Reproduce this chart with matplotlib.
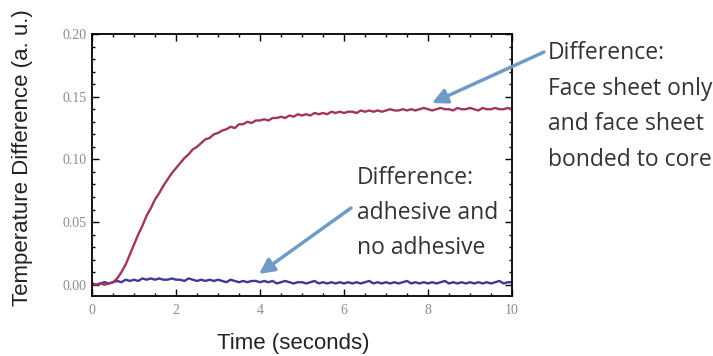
import numpy as np
from matplotlib import pyplot as plt
from matplotlib.ticker import MultipleLocator, FormatStrFormatter

# sampling grid, 0.1 s steps from 0 to 10 s
time = np.linspace(0, 10, 101)

# face sheet only vs face sheet bonded to core
face_core = [0.001, 0.000, 0.001, 0.000, 0.001, 0.002, 0.005, 0.010, 0.016, 0.024,
             0.032, 0.040, 0.047, 0.055, 0.061, 0.068, 0.073, 0.079, 0.084, 0.089,
             0.093, 0.097, 0.101, 0.104, 0.108, 0.110, 0.113, 0.116, 0.117, 0.120,
             0.121, 0.123, 0.124, 0.126, 0.125, 0.128, 0.128, 0.130, 0.129, 0.131,
             0.131, 0.132, 0.131, 0.133, 0.133, 0.134, 0.133, 0.135, 0.134, 0.136,
             0.135, 0.136, 0.135, 0.137, 0.136, 0.137, 0.136, 0.138, 0.137, 0.138,
             0.137, 0.138, 0.138, 0.137, 0.139, 0.138, 0.139, 0.138, 0.139, 0.138,
             0.139, 0.140, 0.139, 0.139, 0.140, 0.139, 0.140, 0.139, 0.140, 0.141,
             0.140, 0.139, 0.140, 0.141, 0.140, 0.140, 0.139, 0.141, 0.140, 0.140,
             0.141, 0.140, 0.139, 0.141, 0.140, 0.140, 0.141, 0.140, 0.140, 0.141,
             0.140]

# adhesive vs no adhesive
adhesive = [0.001, 0.000, 0.001, 0.002, 0.001, 0.002, 0.003, 0.002, 0.004, 0.003,
            0.004, 0.003, 0.005, 0.004, 0.005, 0.004, 0.005, 0.004, 0.004, 0.005,
            0.004, 0.004, 0.003, 0.005, 0.004, 0.003, 0.004, 0.003, 0.004, 0.003,
            0.004, 0.003, 0.002, 0.004, 0.003, 0.002, 0.003, 0.002, 0.003, 0.003,
            0.002, 0.003, 0.002, 0.003, 0.001, 0.002, 0.003, 0.002, 0.001, 0.002,
            0.002, 0.001, 0.002, 0.003, 0.001, 0.002, 0.001, 0.002, 0.001, 0.002,
            0.001, 0.002, 0.001, 0.002, 0.001, 0.002, 0.003, 0.001, 0.002, 0.001,
            0.002, 0.001, 0.002, 0.001, 0.002, 0.003, 0.001, 0.002, 0.001, 0.002,
            0.001, 0.002, 0.001, 0.002, 0.003, 0.001, 0.002, 0.001, 0.002, 0.001,
            0.002, 0.001, 0.002, 0.001, 0.002, 0.001, 0.002, 0.003, 0.001, 0.002,
            0.002]

W, H = 713, 356
fig = plt.figure(figsize=(W / 100, H / 100), dpi=100)
ax = fig.add_axes([92 / W, 1 - 296 / H, 420 / W, 262 / H])

ax.plot(time, adhesive, color='#3b3b96', lw=1.7)
ax.plot(time, face_core, color='#a03562', lw=1.7)

ax.set_xlim(0, 10)
ax.set_ylim(-0.009, 0.2)
ax.xaxis.set_major_locator(MultipleLocator(2))
ax.xaxis.set_minor_locator(MultipleLocator(0.5))
ax.yaxis.set_major_locator(MultipleLocator(0.05))
ax.yaxis.set_minor_locator(MultipleLocator(0.01))
ax.yaxis.set_major_formatter(FormatStrFormatter('%.2f'))
ax.tick_params(which='both', direction='in', top=True, right=True,
               labelsize=10, labelcolor='#8c8c8c', width=1)
ax.tick_params(axis='x', pad=6)
ax.tick_params(axis='y', pad=4)
ax.tick_params(which='major', length=5)
ax.tick_params(which='minor', length=2.5)
for lab in ax.get_xticklabels() + ax.get_yticklabels():
  lab.set_family('Liberation Serif')
for sp in ax.spines.values():
  sp.set_linewidth(1.3)

fig.text(293 / W, 1 - 343 / H, 'Time (seconds)', ha='center', va='center',
         fontsize=16, family='Liberation Sans', color='#222222')
fig.text(23 / W, 1 - 158 / H, 'Temperature Difference (a. u.)', ha='center',
         va='center', rotation=90, fontsize=16, family='Liberation Sans',
         color='#222222')

fig.text(548 / W, 1 - 41 / H,
         'Difference:\nFace sheet only\nand face sheet\nbonded to core',
         ha='left', va='top', fontsize=16.5, family='Open Sans',
         color='#333333', linespacing=1.64)
fig.text(357 / W, 1 - 166 / H, 'Difference:\nadhesive and\nno adhesive',
         ha='left', va='top', fontsize=16.5, family='Open Sans',
         color='#333333', linespacing=1.62)

arrow = dict(arrowstyle='-|>,head_length=0.9,head_width=0.45', color='#6f9cc6',
             lw=2.5, shrinkA=0, shrinkB=0)
ax.annotate('', xy=(432, H - 103), xytext=(544, H - 52),
            xycoords='figure pixels', textcoords='figure pixels',
            arrowprops=arrow, annotation_clip=False)
ax.annotate('', xy=(259, H - 274), xytext=(351, H - 208),
            xycoords='figure pixels', textcoords='figure pixels',
            arrowprops=arrow, annotation_clip=False)

fig.savefig('out.png', dpi=100)
